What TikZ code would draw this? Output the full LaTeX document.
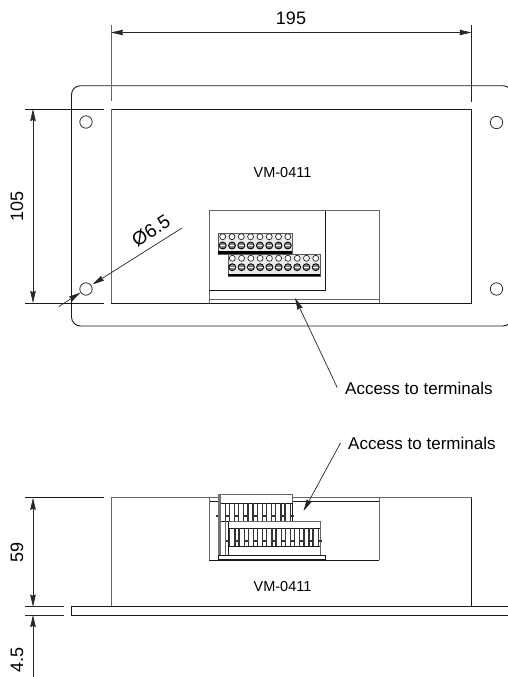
\documentclass[tikz,border=0pt]{standalone}
\usepackage{fontspec}
\setmainfont{Liberation Sans}
\usetikzlibrary{arrows.meta}
\tikzset{
  dk/.style={draw=black!90,line width=0.9pt},
  gr/.style={draw=black!60,line width=1pt},
  thin line/.style={draw=black!85,line width=0.7pt},
  tipa/.tip={Stealth[length=12pt,width=5.5pt,inset=1pt]},
  dimarrow/.style={thin line,-tipa},
  dimboth/.style={thin line,tipa-tipa},
  hole/.style={draw=black!80,line width=0.8pt,fill=white},
  lbl/.style={font=\fontsize{17}{17}\selectfont,inner sep=0pt},
  dimlbl/.style={font=\fontsize{18}{18}\selectfont,inner sep=0pt},
  vm/.style={font=\fontsize{14.5}{15}\selectfont,inner sep=0pt},
  strip/.style={draw=black!65,line width=1pt,fill=black!8},
  port/.style={draw=black!85,line width=0.7pt,fill=white},
  screw/.style={draw=black,line width=0.8pt,fill=black!50},
  tooth/.style={draw=black!80,line width=1.3pt}
}
\newcommand{\teeth}[4]{% x0, count-1, ytop, ybottom
  \foreach \i in {0,...,#2}{
    \pgfmathsetmacro{\cx}{#1+9.27*\i}
    \pgfmathsetmacro{\ym}{#3+(#4-#3)*0.72}
    \draw[tooth] (\cx-2.6,#3) -- (\cx-2.6,#4);
    \draw[tooth] (\cx+2.6,#3) -- (\cx+2.6,#4);
    \draw[tooth] (\cx+2.6,\ym) -- (\cx+6.67,\ym);
    \draw[tooth] (\cx-2.6,\ym) -- (\cx-6.67,\ym);
  }
}
\begin{document}
\begin{tikzpicture}[x=1pt,y=-1pt]
\useasboundingbox (0,0) rectangle (507,677);
% ---------- top view ----------
\draw[dk,rounded corners=9pt] (71.5,85.7) rectangle (512,326);
\draw[dk] (471.5,109) -- (471.5,303);
\draw[dk] (111,109) -- (471.5,109);
\draw[dk] (111,303) -- (471.5,303);
\draw[gr] (111,109) -- (111,303);
\foreach \n/\p in {a/{(86,122)},b/{(86,289)},c/{(496.5,122.5)},d/{(496.5,289)}}
  \draw[hole] \p circle (6.2);
% dimensions, top view
\coordinate (w1t) at (111,25); \coordinate (w1b) at (111,101);
\coordinate (w2t) at (471.5,25); \coordinate (w2b) at (471.5,101.5);
\draw[gr] (w1t) -- (w1b);
\draw[thin line] (w2t) -- (w2b);
\draw[dimboth] (w1t |- 0,32.5) -- (w2t |- 0,32.5);
\node[dimlbl] (dimw) at (291,18.5) {195};
\coordinate (h1l) at (25,109); \coordinate (h1r) at (104,109);
\coordinate (h2l) at (25,303); \coordinate (h2r) at (104,303);
\draw[dk] (h1l) -- (h1r);
\draw[dk] (h2l) -- (h2r);
\draw[dimboth] (33,109) -- (33,303);
\node[dimlbl,rotate=90] (dimh) at (17,206) {105};
% hole diameter
\coordinate (da) at (59,306.5); \coordinate (dat) at (80.5,292.5);
\coordinate (db) at (182,228); \coordinate (dbt) at (92.5,284.5);
\draw[dimarrow] (da) -- (dat);
\draw[dimarrow] (db) -- (dbt);
\node[dimlbl,rotate=32.5,font=\fontsize{19}{19}\selectfont] (dimd) at (151,230.5) {Ø6.5};
\node[vm] (vmtop) at (282.5,172.5) {VM-0411};
% window, top view
\draw[gr] (209,303) -- (209,210.7) -- (379.3,210.7) -- (379.3,303);
\draw[dk] (325.7,210.7) -- (325.7,290) -- (209,290);
\draw[gr] (209,299.3) -- (379.3,299.3);
% terminal strips, top view
\draw[strip] (218,233) rectangle (292,254);
\fill[black] (218,251) rectangle (292,254);
\foreach \i in {0,...,7}{
  \pgfmathsetmacro{\cx}{222.7+9.3*\i}
  \draw[port] (\cx,236.7) circle (3);
  \draw[screw] (\cx,245.5) circle (3.5);
  \draw[white,line width=0.4pt] (\cx-2.4,245.5) -- (\cx+2.4,245.5);
}
\draw[strip] (228,254.5) rectangle (320,276);
\fill[black] (228,273.5) rectangle (320,276);
\foreach \i in {0,...,9}{
  \pgfmathsetmacro{\cx}{232.3+9.27*\i}
  \draw[port] (\cx,258.3) circle (3);
  \draw[screw] (\cx,267.2) circle (3.5);
  \draw[white,line width=0.4pt] (\cx-2.4,267.2) -- (\cx+2.4,267.2);
}
% leader, top view
\coordinate (la) at (337.3,387.7); \coordinate (lat) at (295,298);
\draw[dimarrow] (la) -- (lat);
\node[lbl,anchor=west] (acc1) at (345,388) {Access to terminals};
% ---------- side view ----------
\coordinate (s1l) at (25,497.8); \coordinate (s1r) at (104,497.8);
\draw[dk] (s1l) -- (s1r);
\draw[gr] (111,497.8) -- (471.5,497.8);
\draw[gr] (111,497.8) -- (111,606.7);
\draw[dk] (471.5,497.8) -- (471.5,606.7);
\draw[dk] (209,501.7) -- (379.3,501.7);
\draw[gr] (209,497.8) -- (209,560);
\draw[gr] (379.3,497.8) -- (379.3,560);
\draw[dk] (209,560) -- (379.3,560);
% upper terminal
\draw[gr,fill=white] (218,494.7) rectangle (292,503);
\draw[dk] (218,503) rectangle (292,521);
\teeth{222.7}{7}{503}{521}
\draw[draw=black!55,line width=2.6pt] (219.5,494.7) -- (219.5,556);
% lower terminal
\draw[gr,fill=white] (228,521) rectangle (320,528);
\draw[dk] (228,528) -- (320,528);
\draw[dk] (228,546) -- (320,546);
\draw[gr] (320,521) -- (320,555);
\draw[dk] (228,521) -- (228,556);
\draw[gr] (225.5,521) -- (225.5,556);
\teeth{232.3}{9}{528}{546}
\draw[dk,fill=white] (218,555.3) rectangle (325.7,559);
\node[vm] (vmside) at (282.5,587) {VM-0411};
% leader, side view
\coordinate (lb) at (340.5,443); \coordinate (lbt) at (303.5,511);
\draw[dimarrow] (lb) -- (lbt);
\node[lbl,anchor=west] (acc2) at (348,443) {Access to terminals};
% plate
\draw[dk] (512,606.7) -- (71.5,606.7) -- (71.5,615) -- (512,615);
\coordinate (p1l) at (25,606.7); \coordinate (p1r) at (64,606.7);
\coordinate (p2l) at (25,615); \coordinate (p2r) at (64,615);
\draw[thin line] (p1l) -- (p1r);
\draw[thin line] (p2l) -- (p2r);
\draw[dimboth] (33,497.8) -- (33,606.7);
\coordinate (dimend) at (33,677);
\draw[dimarrow] (dimend) -- (33,615);
\node[dimlbl,rotate=90] (dim59) at (17,552) {59};
\node[dimlbl,rotate=90] (dim45) at (17,660) {4.5};
\end{tikzpicture}
\end{document}
